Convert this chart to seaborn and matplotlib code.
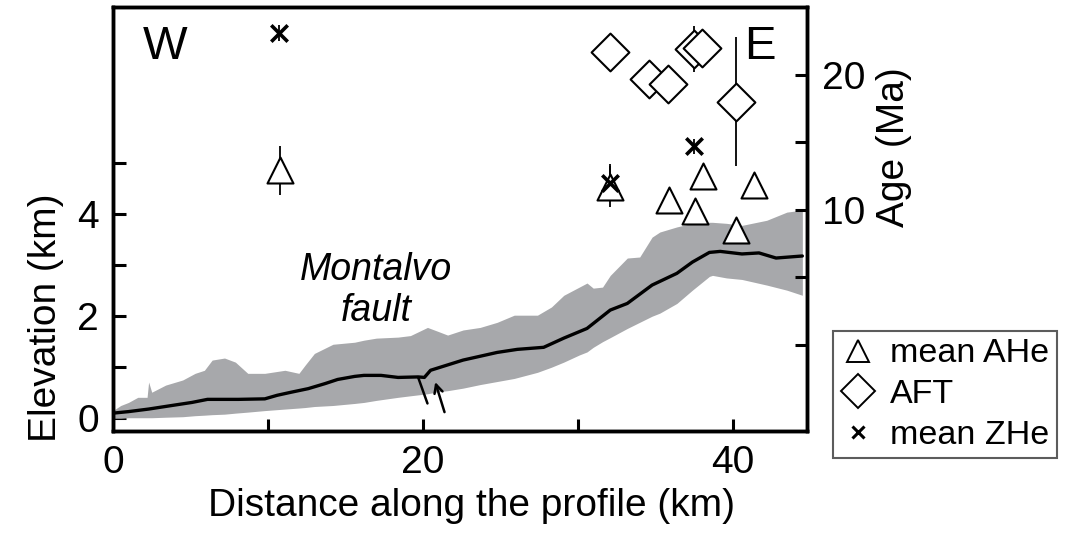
import numpy as np
import pandas as pd
import matplotlib
matplotlib.use("Agg")
import matplotlib.pyplot as plt
import seaborn as sns
from matplotlib.lines import Line2D

# ---------------- data ----------------
# swath profile: distance (km), mean / min / max elevation (km)
mean_dist = [0, 1.0, 2.3, 3.8, 5.1, 6.1, 8.1, 9.8, 10.6, 11.5, 12.6, 13.7, 14.5, 15.6,
             16.2, 17.3, 18.4, 19.7, 20.1, 20.5, 22.6, 24.8, 26.1, 27.8, 29.1, 30.6,
             32.1, 33.2, 34.8, 36.4, 37.4, 38.5, 39.2, 40.6, 41.7, 42.8, 44.5]
mean_elev = [0.10, 0.13, 0.18, 0.25, 0.31, 0.37, 0.37, 0.38, 0.45, 0.51, 0.58, 0.68, 0.76, 0.82,
             0.84, 0.84, 0.80, 0.81, 0.80, 0.94, 1.14, 1.29, 1.35, 1.39, 1.57, 1.76,
             2.12, 2.25, 2.61, 2.84, 3.06, 3.25, 3.27, 3.22, 3.24, 3.14, 3.18]

band_dist = [0, 0.5, 1.0, 1.6, 2.2, 2.3, 2.5, 3.4, 4.5, 5.3, 5.9, 6.4, 7.2, 7.9, 8.7, 9.8,
             11.1, 12.0, 12.4, 13.0, 14.2, 15.6, 16.2, 17.0, 18.4, 19.2, 20.3, 21.0, 21.6,
             22.6, 23.7, 24.8, 25.9, 27.4, 28.3, 29.1, 30.1, 30.6, 31.0, 31.6, 32.1, 33.2,
             34.0, 34.8, 35.3, 36.4, 37.4, 38.5, 38.7, 39.6, 40.6, 42.2, 43.5, 44.5]
band_max = [0.15, 0.25, 0.31, 0.41, 0.41, 0.71, 0.51, 0.65, 0.75, 0.88, 0.94, 1.14, 1.18, 1.10,
            0.88, 0.88, 0.94, 0.88, 1.04, 1.27, 1.45, 1.49, 1.53, 1.57, 1.59, 1.62, 1.78,
            1.70, 1.63, 1.73, 1.78, 1.88, 2.02, 2.02, 2.18, 2.41, 2.57, 2.65, 2.55, 2.57,
            2.80, 3.14, 3.16, 3.55, 3.65, 3.75, 3.82, 3.84, 3.84, 3.82, 3.78, 3.88, 4.04, 4.08]
band_min = [0.0, 0.0, 0.01, 0.01, 0.01, 0.01, 0.01, 0.02, 0.03, 0.05, 0.06, 0.07, 0.08, 0.10,
            0.12, 0.15, 0.18, 0.20, 0.21, 0.23, 0.25, 0.29, 0.31, 0.35, 0.41, 0.44, 0.48,
            0.52, 0.54, 0.59, 0.66, 0.72, 0.78, 0.90, 1.00, 1.10, 1.24, 1.30, 1.39, 1.50,
            1.58, 1.76, 1.88, 2.00, 2.06, 2.25, 2.51, 2.78, 2.80, 2.75, 2.72, 2.61, 2.51, 2.41]

# thermochronology ages (Ma) vs distance (km)
ahe_dist = [10.8, 32.1, 35.9, 37.6, 38.1, 40.2, 41.4]
ahe_age = [12.9, 11.7, 10.7, 9.9, 12.5, 8.5, 11.8]
ahe_err = [1.8, 1.5, 0, 0, 0, 0, 0]

aft_dist = [32.1, 34.6, 35.8, 37.5, 38.0, 40.2]
aft_age = [21.7, 19.7, 19.3, 21.9, 22.0, 18.0]
aft_err = [0, 0, 0, 1.7, 0, 4.8]

zhe_dist = [10.7, 37.5, 32.1]
zhe_age = [23.1, 14.7, 12.0]
zhe_err = [0.6, 0.55, 1.4]

# fault annotation (trace + arrow), distance km / elevation km
fault_trace = ((19.7, 0.80), (20.3, 0.29))
fault_arrow = ((21.4, 0.12), (20.8, 0.71))

# ---------------- style ----------------
sns.set_theme(style="ticks")
plt.rcParams["font.family"] = ["Liberation Sans", "DejaVu Sans"]
plt.rcParams["text.color"] = "black"
plt.rcParams["axes.labelcolor"] = "black"
plt.rcParams["xtick.color"] = "black"
plt.rcParams["ytick.color"] = "black"

W, H = 1071, 533
fig = plt.figure(figsize=(W / 100, H / 100), dpi=100)
ax = fig.add_axes([113 / W, 1 - 431 / H, (807 - 113) / W, (431 - 7) / H])

GRAY = "#a7a8ab"
ax.fill_between(band_dist, band_min, band_max, color=GRAY, lw=0, zorder=1)
sns.lineplot(x=mean_dist, y=mean_elev, ax=ax, color="black", lw=2.4, zorder=2)

ax.annotate("", xy=fault_trace[1], xytext=fault_trace[0],
            arrowprops=dict(arrowstyle="-", color="black", lw=1.8, shrinkA=0, shrinkB=0))
ax.annotate("", xy=fault_arrow[1], xytext=fault_arrow[0],
            arrowprops=dict(arrowstyle="->,head_length=0.5,head_width=0.25", color="black",
                            lw=1.8, shrinkA=0, shrinkB=0))

ax.text(17.0, 2.5, "Montalvo\nfault", style="italic", fontsize=27, ha="center",
        va="center", linespacing=1.2, color="black")
ax.text(0.075, 0.906, "W", transform=ax.transAxes, fontsize=34, ha="center", va="center",
        color="black")
ax.text(0.932, 0.906, "E", transform=ax.transAxes, fontsize=34, ha="center", va="center",
        color="black")

ax.set_xlim(0, 44.8)
ax.set_ylim(-0.25, 8.06)
ax.set_xticks([0, 10, 20, 30, 40])
ax.set_xticklabels(["0", "", "20", "", "40"])
ax.set_yticks([0, 1, 2, 3, 4, 5])
ax.set_yticklabels(["0", "", "2", "", "4", ""])
ax.tick_params(direction="in", length=9, width=2.2, labelsize=28, pad=10, colors="black")
ax.set_xlabel("Distance along the profile (km)", fontsize=28, color="black")
ax.set_ylabel("Elevation (km)", fontsize=28, color="black")
ax.xaxis.set_label_coords(0.517, -0.135)
ax.yaxis.set_label_coords(-0.07, 0.267)

ax2 = ax.twinx()
ax2.errorbar(ahe_dist, ahe_age, yerr=ahe_err, fmt="none", ecolor="black", elinewidth=1.3, zorder=1)
ax2.errorbar(aft_dist, aft_age, yerr=aft_err, fmt="none", ecolor="black", elinewidth=1.3, zorder=1)
ax2.errorbar(zhe_dist, zhe_age, yerr=zhe_err, fmt="none", ecolor="black", elinewidth=1.3, zorder=1)
sns.scatterplot(x=aft_dist, y=aft_age, ax=ax2, marker="D", s=370, color="white",
                edgecolor="black", linewidth=1.5, zorder=3)
sns.scatterplot(x=ahe_dist, y=ahe_age, ax=ax2, marker="^", s=350, color="white",
                edgecolor="black", linewidth=1.5, zorder=4)
sns.scatterplot(x=zhe_dist, y=zhe_age, ax=ax2, marker="x", s=140, color="black",
                linewidth=2.6, zorder=5)
ax2.set_ylim(-6.4, 25.0)
ax2.set_yticks([0, 5, 10, 15, 20])
ax2.set_yticklabels(["", "", "10", "", "20"])
ax2.tick_params(direction="in", length=9, width=2.2, labelsize=28, pad=11, colors="black")
ax2.set_ylabel("Age (Ma)", fontsize=28, color="black")
ax2.yaxis.set_label_coords(1.10, 0.67)

for a in (ax, ax2):
    for s in a.spines.values():
        s.set_linewidth(2.5)
        s.set_color("black")
ax.tick_params(top=False, right=False)

handles = [
    Line2D([], [], marker="^", ls="none", ms=16, mfc="white", mec="black", mew=1.4),
    Line2D([], [], marker="D", ls="none", ms=17, mfc="white", mec="black", mew=1.4),
    Line2D([], [], marker="x", ls="none", ms=9, mec="black", mew=2.2),
]
leg = fig.legend(handles, ["mean AHe", "AFT", "mean ZHe"], loc="upper left",
                 bbox_to_anchor=(833 / W, 1 - 331 / H), frameon=True, fancybox=False,
                 edgecolor="#333333", fontsize=24.5, handlelength=1.0, handletextpad=0.45,
                 borderpad=0.22, labelspacing=0.28, borderaxespad=0)
leg.get_frame().set_linewidth(1.5)
for t in leg.get_texts():
    t.set_color("black")

fig.savefig("out.png", dpi=100)
